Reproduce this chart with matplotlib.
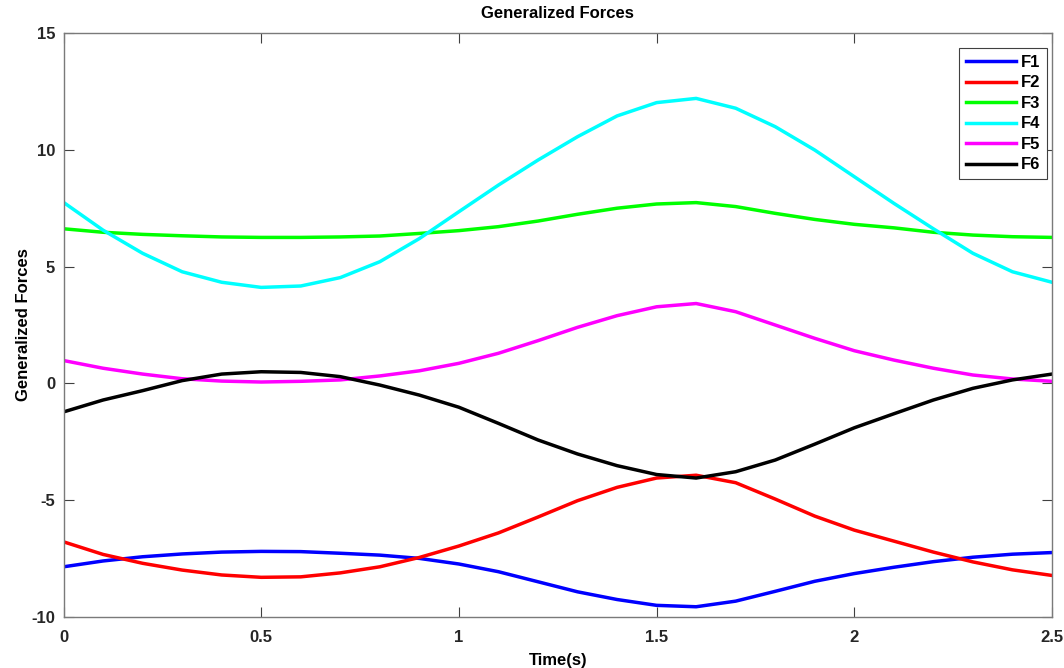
import numpy as np
import matplotlib.pyplot as plt

# time samples (s)
t = [0.0, 0.1, 0.2, 0.3, 0.4, 0.5, 0.6, 0.7, 0.8, 0.9, 1.0, 1.1, 1.2,
     1.3, 1.4, 1.5, 1.6, 1.7, 1.8, 1.9, 2.0, 2.1, 2.2, 2.3, 2.4, 2.5]

# generalized forces
F1 = [-7.85, -7.60, -7.42, -7.30, -7.22, -7.19, -7.20, -7.27, -7.35, -7.49, -7.73, -8.06, -8.49,
      -8.92, -9.25, -9.50, -9.56, -9.32, -8.90, -8.47, -8.14, -7.87, -7.63, -7.44, -7.31, -7.24]
F2 = [-6.78, -7.32, -7.70, -7.99, -8.20, -8.30, -8.28, -8.11, -7.85, -7.45, -6.96, -6.40, -5.72,
      -5.02, -4.45, -4.05, -3.93, -4.25, -4.95, -5.68, -6.28, -6.75, -7.22, -7.64, -7.98, -8.22]
F3 = [6.62, 6.47, 6.38, 6.32, 6.27, 6.25, 6.25, 6.27, 6.31, 6.42, 6.54, 6.71, 6.95,
      7.24, 7.50, 7.68, 7.74, 7.57, 7.28, 7.02, 6.81, 6.66, 6.47, 6.35, 6.28, 6.25]
F4 = [7.75, 6.56, 5.57, 4.78, 4.33, 4.11, 4.17, 4.53, 5.21, 6.20, 7.35, 8.49, 9.56,
      10.56, 11.45, 12.02, 12.20, 11.78, 10.99, 9.99, 8.85, 7.71, 6.62, 5.57, 4.78, 4.33]
F5 = [0.98, 0.65, 0.40, 0.20, 0.10, 0.06, 0.09, 0.15, 0.32, 0.54, 0.86, 1.29, 1.83,
      2.40, 2.90, 3.28, 3.42, 3.07, 2.50, 1.93, 1.40, 1.00, 0.65, 0.36, 0.19, 0.09]
F6 = [-1.22, -0.71, -0.31, 0.12, 0.40, 0.50, 0.47, 0.29, -0.07, -0.50, -1.02, -1.71, -2.42,
      -3.02, -3.52, -3.90, -4.05, -3.78, -3.28, -2.60, -1.90, -1.30, -0.71, -0.21, 0.15, 0.40]

labels = ['F1', 'F2', 'F3', 'F4', 'F5', 'F6']
colors = ['#0000ff', '#ff0000', '#00ff00', '#00ffff', '#ff00ff', '#000000']

xticks = [0, 0.5, 1, 1.5, 2, 2.5]
xticklabels = ['0', '0.5', '1', '1.5', '2', '2.5']
yticks = [-10, -5, 0, 5, 10, 15]

plt.rcParams['font.family'] = ['Liberation Sans', 'DejaVu Sans']
plt.rcParams['font.weight'] = 'bold'
plt.rcParams['axes.unicode_minus'] = False

fig = plt.figure(figsize=(10.64, 6.68), dpi=100)
ax = fig.add_axes([0.0597, 0.0763, 0.9290, 0.8743])

for y, lab, c in zip([F1, F2, F3, F4, F5, F6], labels, colors):
    ax.plot(t, y, color=c, linewidth=2.5, label=lab, solid_joinstyle='round')

ax.set_xlim(0, 2.5)
ax.set_ylim(-10, 15)
ax.set_xticks(xticks)
ax.set_xticklabels(xticklabels)
ax.set_yticks(yticks)

axcol = '#7a7a7a'
for s in ax.spines.values():
    s.set_color(axcol)
    s.set_linewidth(1.0)
ax.tick_params(direction='in', length=7, width=0.8, color='#404040',
               top=True, right=True, labelsize=12, labelcolor='#262626')
ax.tick_params(axis='x', pad=9)
ax.tick_params(axis='y', pad=6)
for lbl in ax.get_xticklabels() + ax.get_yticklabels():
    lbl.set_fontweight('bold')

ax.set_title('Generalized Forces', fontsize=12, fontweight='bold', pad=11)
ax.set_xlabel('Time(s)', fontsize=12, fontweight='bold', labelpad=6)
ax.set_ylabel('Generalized Forces', fontsize=12, fontweight='bold', labelpad=0)

leg = ax.legend(loc='upper right', bbox_to_anchor=(0.995, 0.974), borderaxespad=0,
                fancybox=False, framealpha=1, edgecolor='#404040', fontsize=12,
                handlelength=3.0, handletextpad=0.3, labelspacing=0.33, borderpad=0.4)
leg.get_frame().set_linewidth(0.8)
for txt in leg.get_texts():
    txt.set_fontweight('bold')

fig.savefig('out.png', dpi=100)
